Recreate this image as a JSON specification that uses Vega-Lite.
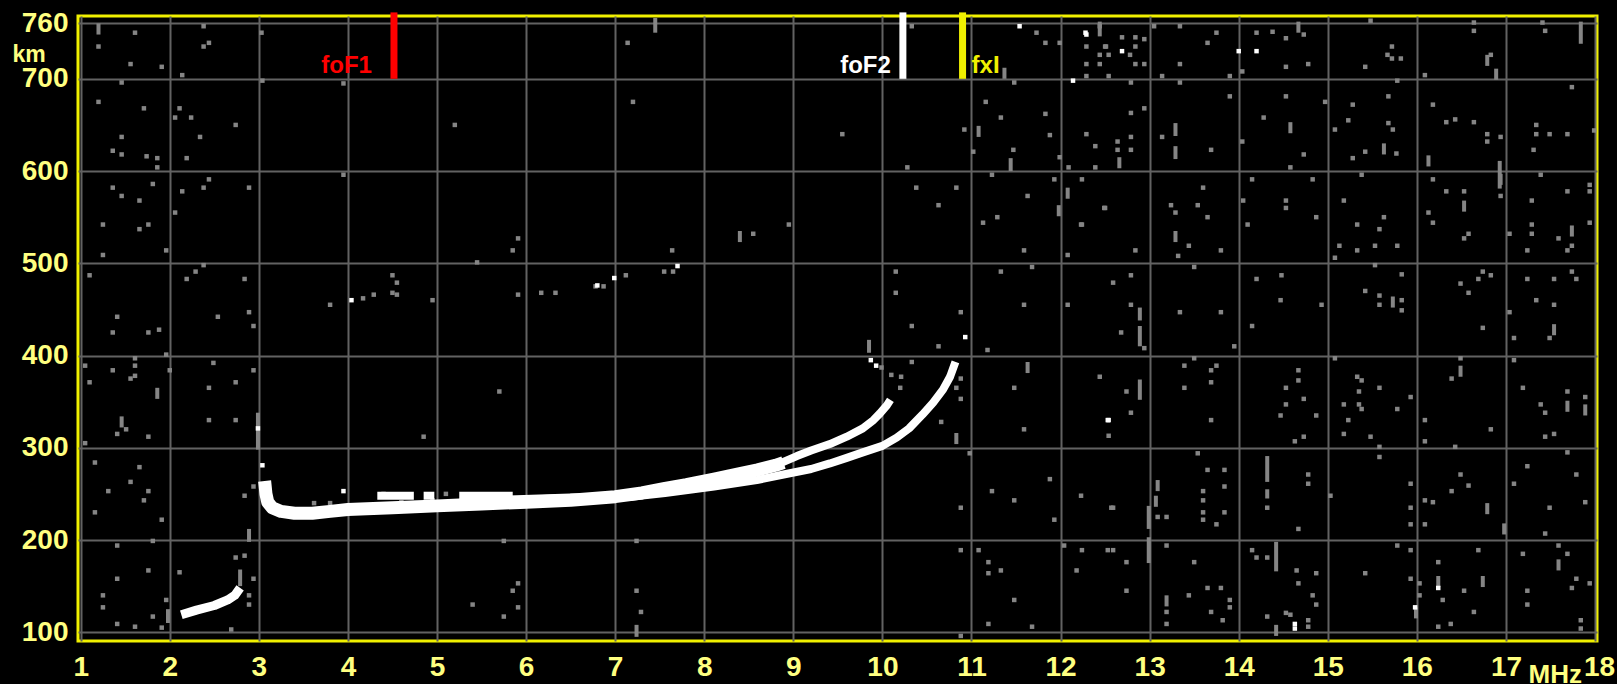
{
  "$schema": "https://vega.github.io/schema/vega-lite/v6.json",
  "width": 1519,
  "height": 625,
  "autosize": {"type": "none"},
  "padding": {"left": 78, "top": 16, "right": 20, "bottom": 43},
  "background": "#000000",
  "config": {
    "view": {"stroke": "#f0f000", "strokeWidth": 3, "fill": "#000000"},
    "axis": {
      "grid": true, "gridColor": "#626262", "gridWidth": 2, "domain": false, "ticks": false, "tickSize": 0,
      "labelColor": "#ffff80", "labelFont": "Liberation Sans", "labelFontWeight": "bold", "labelFontSize": 28,
      "labelOverlap": false, "labelFlush": false, "labelBound": false, "format": "d",
      "titleColor": "#ffff80", "titleFont": "Liberation Sans", "titleFontWeight": "bold"
    }
  },
  "datasets": {
    "noise": [
      {"f":1.61,"h":750},{"f":1.20,"h":735},{"f":2.38,"h":757},{"f":2.44,"h":739},{"f":2.38,"h":735},{"f":1.56,"h":716},{"f":1.91,"h":713},{"f":2.14,"h":704},{"f":1.46,"h":696},{"f":3.03,"h":750},{"f":3.04,"h":698},{"f":3.95,"h":695},
      {"f":1.20,"h":675},{"f":1.71,"h":668},{"f":2.11,"h":668},{"f":2.06,"h":658},{"f":2.24,"h":658},{"f":2.74,"h":650},{"f":1.46,"h":637},{"f":2.34,"h":637},{"f":1.36,"h":622},{"f":1.46,"h":618},{"f":1.74,"h":616},{"f":1.86,"h":614},{"f":2.19,"h":614},{"f":1.86,"h":604},{"f":5.20,"h":650},
      {"f":3.95,"h":596},{"f":1.36,"h":582},{"f":1.81,"h":586},{"f":2.44,"h":591},{"f":2.14,"h":578},{"f":2.38,"h":582},{"f":2.89,"h":582},{"f":1.46,"h":573},{"f":1.66,"h":568},{"f":1.25,"h":542},{"f":1.76,"h":542},{"f":1.66,"h":537},{"f":2.06,"h":555},{"f":1.96,"h":514},{"f":1.25,"h":509},{"f":5.91,"h":527},{"f":5.85,"h":514},{"f":5.45,"h":501},{"f":2.38,"h":498},{"f":2.29,"h":491},{"f":2.19,"h":483},{"f":2.84,"h":483},{"f":1.10,"h":487},
      {"f":4.50,"h":487},{"f":4.55,"h":479},{"f":4.50,"h":468},{"f":4.55,"h":466},{"f":4.17,"h":462},{"f":4.29,"h":466},{"f":3.80,"h":455},{"f":4.95,"h":460},{"f":5.91,"h":466},{"f":6.17,"h":468},{"f":6.33,"h":468},{"f":6.78,"h":475},{"f":1.41,"h":442},{"f":2.89,"h":447},{"f":2.54,"h":442},{"f":2.94,"h":432},{"f":1.36,"h":425},{"f":1.76,"h":425},{"f":1.88,"h":428},{"f":1.96,"h":401},
      {"f":1.05,"h":389},{"f":1.36,"h":384},{"f":1.61,"h":397},{"f":1.61,"h":389},{"f":1.61,"h":378},{"f":1.56,"h":375},{"f":1.10,"h":371},{"f":2.00,"h":384},{"f":2.49,"h":392},{"f":2.94,"h":384},{"f":2.44,"h":365},{"f":2.74,"h":371},{"f":1.51,"h":320},{"f":1.41,"h":315},{"f":1.76,"h":312},{"f":2.44,"h":330},{"f":2.74,"h":330},{"f":5.70,"h":361},{"f":4.85,"h":312},{"f":1.05,"h":305},
      {"f":1.16,"h":284},{"f":1.66,"h":279},{"f":1.56,"h":263},{"f":1.31,"h":253},{"f":1.76,"h":253},{"f":1.71,"h":243},{"f":1.16,"h":230},{"f":1.91,"h":222},{"f":2.84,"h":248},{"f":2.94,"h":258},
      {"f":1.41,"h":194},{"f":1.81,"h":199},{"f":1.76,"h":167},{"f":1.41,"h":158},{"f":2.11,"h":165},{"f":2.74,"h":181},{"f":2.84,"h":183},{"f":2.94,"h":158},{"f":1.25,"h":140},{"f":1.25,"h":127},{"f":1.96,"h":135},{"f":1.81,"h":117},{"f":1.41,"h":109},{"f":1.61,"h":106},{"f":1.91,"h":105},{"f":2.69,"h":103},{"f":2.89,"h":140},{"f":2.89,"h":130},{"f":5.91,"h":153},{"f":5.85,"h":145},{"f":5.40,"h":130},{"f":5.75,"h":117},{"f":5.91,"h":127},{"f":5.75,"h":199},
      {"f":7.14,"h":739},{"f":7.20,"h":675},{"f":9.55,"h":640},{"f":10.33,"h":757},{"f":11.73,"h":750},{"f":11.83,"h":739},{"f":11.99,"h":739},{"f":12.44,"h":757},{"f":12.29,"h":735},{"f":12.51,"h":735},{"f":12.44,"h":726},{"f":12.29,"h":716},{"f":12.44,"h":716},{"f":12.29,"h":703},{"f":12.54,"h":703},{"f":11.48,"h":696},{"f":11.16,"h":675},{"f":11.33,"h":658},{"f":11.83,"h":662},{"f":10.92,"h":645},{"f":11.02,"h":621},{"f":11.47,"h":623},{"f":11.88,"h":639},{"f":12.29,"h":640},{"f":12.39,"h":627},{"f":11.99,"h":615},{"f":12.09,"h":604},{"f":12.39,"h":604},{"f":10.28,"h":604},{"f":11.23,"h":596},{"f":11.93,"h":591},{"f":12.24,"h":591},{"f":10.38,"h":582},{"f":10.83,"h":582},{"f":11.63,"h":573},{"f":12.49,"h":560},{"f":10.63,"h":563},{"f":11.13,"h":544},{"f":11.29,"h":550},{"f":12.23,"h":542},{"f":8.95,"h":542},{"f":8.55,"h":532},{"f":11.59,"h":514},{"f":12.08,"h":509},{"f":7.64,"h":514},{"f":7.55,"h":491},{"f":7.65,"h":491},{"f":7.12,"h":487},{"f":6.87,"h":475},{"f":10.15,"h":491},{"f":10.15,"h":468},{"f":11.33,"h":491},{"f":11.68,"h":496},{"f":11.59,"h":455},{"f":12.08,"h":455},{"f":12.59,"h":479},{"f":10.88,"h":447},{"f":10.33,"h":432},{"f":10.63,"h":410},{"f":11.18,"h":406},{"f":10.33,"h":393},{"f":10.21,"h":377},{"f":10.10,"h":379},{"f":10.20,"h":365},{"f":10.83,"h":365},{"f":10.88,"h":375},{"f":10.88,"h":353},{"f":10.66,"h":328},{"f":11.48,"h":365},{"f":12.44,"h":377},{"f":12.54,"h":313},{"f":11.59,"h":320},{"f":10.98,"h":294},{"f":11.88,"h":266},{"f":11.23,"h":253},{"f":11.48,"h":243},{"f":12.23,"h":248},{"f":10.88,"h":235},{"f":11.93,"h":222},{"f":12.57,"h":235},{"f":7.24,"h":199},{"f":10.88,"h":189},{"f":11.08,"h":189},{"f":11.19,"h":176},{"f":11.19,"h":164},{"f":11.33,"h":167},{"f":12.04,"h":194},{"f":12.24,"h":189},{"f":12.53,"h":189},{"f":12.18,"h":167},{"f":11.48,"h":135},{"f":7.24,"h":145},{"f":7.29,"h":122},{"f":11.19,"h":109},{"f":11.68,"h":106},{"f":9.99,"h":387},{"f":10.88,"h":96},
      {"f":12.50,"h":735},{"f":12.69,"h":745},{"f":12.84,"h":745},{"f":12.84,"h":735},{"f":12.94,"h":743},{"f":12.78,"h":726},{"f":12.54,"h":726},{"f":12.84,"h":716},{"f":12.94,"h":716},{"f":13.05,"h":757},{"f":13.34,"h":757},{"f":13.75,"h":750},{"f":13.65,"h":739},{"f":13.34,"h":716},{"f":13.90,"h":703},{"f":13.14,"h":703},{"f":14.20,"h":750},{"f":14.38,"h":751},{"f":14.53,"h":744},{"f":14.73,"h":748},{"f":14.78,"h":716},{"f":14.53,"h":713},{"f":14.04,"h":708},{"f":15.48,"h":763},{"f":15.72,"h":735},{"f":15.67,"h":726},{"f":15.82,"h":722},{"f":15.72,"h":722},{"f":15.42,"h":713},{"f":16.64,"h":752},{"f":16.64,"h":761},{"f":16.83,"h":726},{"f":16.09,"h":704},{"f":17.41,"h":761},{"f":17.44,"h":752},
      {"f":12.79,"h":696},{"f":12.94,"h":668},{"f":12.79,"h":663},{"f":12.64,"h":632},{"f":12.79,"h":637},{"f":12.64,"h":623},{"f":12.79,"h":623},{"f":13.34,"h":696},{"f":13.90,"h":681},{"f":13.14,"h":637},{"f":13.69,"h":623},{"f":14.53,"h":681},{"f":14.28,"h":658},{"f":14.04,"h":632},{"f":14.73,"h":618},{"f":14.58,"h":604},{"f":14.97,"h":675},{"f":15.28,"h":672},{"f":15.68,"h":681},{"f":15.23,"h":655},{"f":15.08,"h":645},{"f":15.68,"h":652},{"f":15.73,"h":645},{"f":15.42,"h":621},{"f":15.77,"h":619},{"f":15.28,"h":614},{"f":15.78,"h":698},{"f":16.18,"h":672},{"f":16.33,"h":653},{"f":16.43,"h":656},{"f":16.64,"h":653},{"f":16.79,"h":640},{"f":16.79,"h":632},{"f":16.94,"h":637},{"f":17.74,"h":691},{"f":17.34,"h":650},{"f":17.34,"h":640},{"f":17.49,"h":640},{"f":17.69,"h":640},{"f":17.31,"h":623},{"f":17.99,"h":644},
      {"f":12.50,"h":560},{"f":12.24,"h":542},{"f":12.84,"h":514},{"f":13.24,"h":563},{"f":13.29,"h":555},{"f":13.54,"h":563},{"f":13.65,"h":550},{"f":13.44,"h":519},{"f":13.80,"h":514},{"f":13.32,"h":508},{"f":13.60,"h":582},{"f":14.15,"h":591},{"f":14.83,"h":591},{"f":14.05,"h":568},{"f":14.53,"h":568},{"f":14.53,"h":560},{"f":14.87,"h":550},{"f":14.10,"h":542},{"f":15.18,"h":568},{"f":15.38,"h":596},{"f":15.63,"h":550},{"f":15.33,"h":542},{"f":15.58,"h":537},{"f":15.13,"h":519},{"f":15.33,"h":514},{"f":15.53,"h":519},{"f":15.78,"h":519},{"f":15.08,"h":506},{"f":16.18,"h":591},{"f":16.33,"h":578},{"f":16.53,"h":578},{"f":16.13,"h":555},{"f":16.18,"h":544},{"f":16.58,"h":532},{"f":16.53,"h":527},{"f":16.94,"h":573},{"f":17.29,"h":568},{"f":17.39,"h":596},{"f":17.69,"h":578},{"f":17.94,"h":585},{"f":17.94,"h":578},{"f":17.29,"h":542},{"f":17.29,"h":532},{"f":17.04,"h":532},{"f":17.94,"h":544},{"f":17.59,"h":527},{"f":17.74,"h":519},{"f":17.69,"h":514},{"f":17.24,"h":514},
      {"f":12.79,"h":487},{"f":12.79,"h":455},{"f":12.68,"h":425},{"f":12.94,"h":408},{"f":13.50,"h":496},{"f":13.34,"h":447},{"f":13.80,"h":447},{"f":13.95,"h":410},{"f":14.20,"h":483},{"f":14.48,"h":487},{"f":14.47,"h":460},{"f":14.93,"h":455},{"f":14.15,"h":432},{"f":15.53,"h":498},{"f":15.83,"h":488},{"f":15.42,"h":470},{"f":15.58,"h":465},{"f":15.58,"h":455},{"f":15.83,"h":460},{"f":15.83,"h":449},{"f":16.49,"h":478},{"f":16.58,"h":468},{"f":16.69,"h":483},{"f":16.74,"h":491},{"f":16.83,"h":487},{"f":16.74,"h":430},{"f":17.24,"h":483},{"f":17.34,"h":460},{"f":17.54,"h":483},{"f":17.54,"h":455},{"f":17.74,"h":491},{"f":17.79,"h":483},{"f":17.04,"h":447},{"f":17.49,"h":419},{"f":17.09,"h":419},
      {"f":12.74,"h":361},{"f":12.79,"h":338},{"f":13.50,"h":397},{"f":13.39,"h":389},{"f":13.69,"h":384},{"f":13.75,"h":389},{"f":13.39,"h":365},{"f":13.69,"h":371},{"f":13.69,"h":330},{"f":14.67,"h":384},{"f":14.67,"h":373},{"f":14.53,"h":365},{"f":14.73,"h":353},{"f":14.53,"h":347},{"f":14.47,"h":335},{"f":14.87,"h":335},{"f":14.73,"h":312},{"f":14.63,"h":307},{"f":15.08,"h":397},{"f":15.33,"h":377},{"f":15.38,"h":373},{"f":15.35,"h":361},{"f":15.58,"h":365},{"f":15.18,"h":347},{"f":15.35,"h":347},{"f":15.38,"h":342},{"f":15.78,"h":342},{"f":15.93,"h":355},{"f":15.23,"h":330},{"f":15.18,"h":315},{"f":15.48,"h":312},{"f":15.58,"h":301},{"f":16.49,"h":397},{"f":16.39,"h":375},{"f":16.09,"h":330},{"f":16.09,"h":307},{"f":16.83,"h":320},{"f":16.43,"h":301},{"f":17.09,"h":395},{"f":17.19,"h":365},{"f":17.39,"h":347},{"f":17.44,"h":338},{"f":17.69,"h":361},{"f":17.89,"h":355},{"f":17.44,"h":312},{"f":17.54,"h":315},
      {"f":12.59,"h":235},{"f":13.54,"h":294},{"f":13.65,"h":276},{"f":13.84,"h":276},{"f":13.84,"h":258},{"f":13.09,"h":225},{"f":13.19,"h":225},{"f":13.60,"h":253},{"f":13.60,"h":243},{"f":13.60,"h":230},{"f":13.60,"h":222},{"f":13.75,"h":217},{"f":13.84,"h":230},{"f":14.32,"h":235},{"f":14.78,"h":271},{"f":14.78,"h":261},{"f":14.67,"h":212},{"f":15.03,"h":248},{"f":15.58,"h":290},{"f":15.93,"h":261},{"f":15.93,"h":235},{"f":15.93,"h":217},{"f":16.09,"h":243},{"f":16.18,"h":241},{"f":16.09,"h":217},{"f":16.49,"h":271},{"f":16.39,"h":253},{"f":16.58,"h":259},{"f":17.69,"h":295},{"f":17.24,"h":280},{"f":17.79,"h":271},{"f":17.09,"h":261},{"f":17.49,"h":235},{"f":17.89,"h":241},{"f":17.44,"h":207},
      {"f":12.59,"h":189},{"f":12.74,"h":176},{"f":12.74,"h":145},{"f":13.19,"h":194},{"f":13.50,"h":176},{"f":13.65,"h":148},{"f":13.80,"h":148},{"f":13.44,"h":140},{"f":13.19,"h":122},{"f":13.69,"h":122},{"f":13.90,"h":135},{"f":13.90,"h":127},{"f":13.82,"h":113},{"f":13.19,"h":109},{"f":14.15,"h":189},{"f":14.20,"h":181},{"f":14.32,"h":181},{"f":14.65,"h":167},{"f":14.87,"h":164},{"f":14.67,"h":153},{"f":14.83,"h":140},{"f":14.87,"h":130},{"f":14.53,"h":121},{"f":14.58,"h":119},{"f":14.78,"h":113},{"f":14.78,"h":106},{"f":14.32,"h":117},{"f":15.42,"h":164},{"f":15.78,"h":194},{"f":15.93,"h":189},{"f":15.93,"h":158},{"f":16.03,"h":153},{"f":16.03,"h":140},{"f":16.24,"h":176},{"f":16.29,"h":135},{"f":16.53,"h":145},{"f":16.64,"h":122},{"f":16.69,"h":189},{"f":16.38,"h":109},{"f":16.24,"h":106},{"f":17.59,"h":194},{"f":17.24,"h":145},{"f":17.24,"h":130},{"f":17.79,"h":158},{"f":17.74,"h":148},{"f":17.94,"h":153},{"f":17.84,"h":113},{"f":17.84,"h":104},{"f":17.69,"h":185},{"f":17.19,"h":185},
      {"f":4.60,"h":241},{"f":4.95,"h":243},{"f":5.30,"h":242},{"f":5.55,"h":244},{"f":3.62,"h":240},{"f":3.80,"h":240},{"f":4.40,"h":250},{"f":5.10,"h":250}
    ],
    "spots": [
      {"f":2.99,"h":321},{"f":3.04,"h":281},{"f":3.95,"h":253},{"f":4.04,"h":460},{"f":7.70,"h":497},{"f":6.99,"h":484},{"f":10.93,"h":420},{"f":12.53,"h":330},{"f":9.87,"h":395},{"f":9.93,"h":389},{"f":11.54,"h":757},{"f":12.29,"h":748},{"f":12.14,"h":698},{"f":12.69,"h":730},{"f":14.00,"h":730},{"f":14.20,"h":730},{"f":15.98,"h":127},{"f":16.24,"h":148},{"f":14.63,"h":109},{"f":14.63,"h":104},{"f":12.28,"h":750},{"f":12.54,"h":330},{"f":6.80,"h":476}
    ],
    "streaks": [
      {"f":1.20,"lo":748,"hi":760},{"f":1.86,"lo":353,"hi":365},{"f":1.46,"lo":322,"hi":334},{"f":2.89,"lo":198,"hi":212},{"f":2.99,"lo":298,"hi":338},{"f":1.98,"lo":110,"hi":125},{"f":2.79,"lo":150,"hi":168},
      {"f":7.45,"lo":750,"hi":766},{"f":11.37,"lo":700,"hi":712},{"f":11.08,"lo":637,"hi":649},{"f":11.44,"lo":600,"hi":614},{"f":12.08,"lo":570,"hi":582},{"f":11.98,"lo":551,"hi":563},{"f":8.40,"lo":523,"hi":535},{"f":9.85,"lo":403,"hi":417},{"f":10.83,"lo":304,"hi":316},{"f":11.63,"lo":381,"hi":393},{"f":7.24,"lo":95,"hi":108},
      {"f":12.44,"lo":746,"hi":762},{"f":14.67,"lo":750,"hi":762},{"f":16.79,"lo":714,"hi":726},{"f":16.89,"lo":699,"hi":711},{"f":17.84,"lo":738,"hi":762},{"f":12.66,"lo":603,"hi":615},{"f":13.29,"lo":638,"hi":652},{"f":13.29,"lo":613,"hi":627},{"f":14.58,"lo":641,"hi":653},{"f":15.63,"lo":618,"hi":630},{"f":16.13,"lo":605,"hi":617},{"f":16.93,"lo":581,"hi":611},{"f":13.29,"lo":523,"hi":535},{"f":16.53,"lo":556,"hi":568},{"f":16.94,"lo":585,"hi":597},{"f":17.74,"lo":529,"hi":541},{"f":12.89,"lo":438,"hi":452},{"f":12.89,"lo":410,"hi":432},{"f":15.73,"lo":452,"hi":464},{"f":17.54,"lo":422,"hi":434},{"f":12.89,"lo":352,"hi":374},{"f":16.49,"lo":377,"hi":389},{"f":17.69,"lo":339,"hi":351},{"f":17.89,"lo":335,"hi":347},{"f":13.09,"lo":253,"hi":265},{"f":13.07,"lo":236,"hi":248},{"f":12.99,"lo":212,"hi":237},{"f":12.99,"lo":175,"hi":203},{"f":14.32,"lo":263,"hi":291},{"f":14.32,"lo":245,"hi":255},{"f":16.79,"lo":228,"hi":240},{"f":16.98,"lo":206,"hi":218},{"f":13.19,"lo":128,"hi":140},{"f":14.42,"lo":166,"hi":198},{"f":14.42,"lo":96,"hi":108},{"f":15.99,"lo":115,"hi":127},{"f":16.24,"lo":149,"hi":161},{"f":16.74,"lo":149,"hi":161},{"f":17.59,"lo":167,"hi":179}
    ],
    "traces": [
      {"trace":"O","seg":"O","f":3.065,"h":264},{"trace":"O","seg":"O","f":3.08,"h":250},{"trace":"O","seg":"O","f":3.10,"h":241},{"trace":"O","seg":"O","f":3.15,"h":235},{"trace":"O","seg":"O","f":3.25,"h":231},{"trace":"O","seg":"O","f":3.4,"h":229},{"trace":"O","seg":"O","f":3.6,"h":229},{"trace":"O","seg":"O","f":3.8,"h":231},{"trace":"O","seg":"O","f":4.0,"h":233},{"trace":"O","seg":"O","f":4.5,"h":235},{"trace":"O","seg":"O","f":5.0,"h":237},{"trace":"O","seg":"O","f":5.5,"h":239},{"trace":"O","seg":"O","f":6.0,"h":241},{"trace":"O","seg":"O","f":6.5,"h":243},{"trace":"O","seg":"O","f":7.0,"h":247},{"trace":"O","seg":"O","f":7.3,"h":251},{"trace":"O","seg":"O","f":7.56,"h":256},{"trace":"O","seg":"O","f":7.8,"h":260},{"trace":"O","seg":"O","f":8.11,"h":266},{"trace":"O","seg":"O","f":8.4,"h":272},{"trace":"O","seg":"O","f":8.6,"h":276},{"trace":"O","seg":"O","f":8.8,"h":281},{"trace":"O","seg":"O","f":8.89,"h":284},
      {"trace":"O2","seg":"O2","f":8.85,"h":283},{"trace":"O2","seg":"O2","f":9.04,"h":291},{"trace":"O2","seg":"O2","f":9.2,"h":297},{"trace":"O2","seg":"O2","f":9.41,"h":304},{"trace":"O2","seg":"O2","f":9.6,"h":312},{"trace":"O2","seg":"O2","f":9.78,"h":321},{"trace":"O2","seg":"O2","f":9.9,"h":330},{"trace":"O2","seg":"O2","f":9.97,"h":337},{"trace":"O2","seg":"O2","f":10.05,"h":346},{"trace":"O2","seg":"O2","f":10.09,"h":352},
      {"trace":"X","seg":"X","f":5.8,"h":244},{"trace":"X","seg":"X","f":6.5,"h":246},{"trace":"X","seg":"X","f":7.2,"h":247},{"trace":"X","seg":"X","f":7.56,"h":251},{"trace":"X","seg":"X","f":8.11,"h":258},{"trace":"X","seg":"X","f":8.59,"h":265},{"trace":"X","seg":"X","f":8.89,"h":271},{"trace":"X","seg":"X","f":9.2,"h":277},{"trace":"X","seg":"X","f":9.41,"h":283},{"trace":"X","seg":"X","f":9.6,"h":289},{"trace":"X","seg":"X","f":9.78,"h":295},{"trace":"X","seg":"X","f":10.0,"h":302},{"trace":"X","seg":"X","f":10.16,"h":311},{"trace":"X","seg":"X","f":10.3,"h":321},{"trace":"X","seg":"X","f":10.45,"h":336},{"trace":"X","seg":"X","f":10.57,"h":349},{"trace":"X","seg":"X","f":10.68,"h":363},{"trace":"X","seg":"X","f":10.76,"h":377},{"trace":"X","seg":"X","f":10.82,"h":393},
      {"trace":"Ou","seg":"u1","f":4.33,"h":248},{"trace":"Ou","seg":"u1","f":4.74,"h":248},{"trace":"Ou","seg":"u2","f":4.85,"h":248},{"trace":"Ou","seg":"u2","f":4.97,"h":248},{"trace":"Ou","seg":"u3","f":5.25,"h":248},{"trace":"Ou","seg":"u3","f":5.85,"h":248},
      {"trace":"E","seg":"E","f":2.13,"h":119},{"trace":"E","seg":"E","f":2.3,"h":124},{"trace":"E","seg":"E","f":2.5,"h":129},{"trace":"E","seg":"E","f":2.65,"h":135},{"trace":"E","seg":"E","f":2.73,"h":140},{"trace":"E","seg":"E","f":2.79,"h":148}
    ],
    "markers": [
      {"name":"foF1","f":4.517},{"name":"foF2","f":10.23},{"name":"fxI","f":10.90}
    ]
  },
  "layer": [
    {
      "data": {"name": "noise"},
      "mark": {"type": "point", "shape": "square", "filled": true, "size": 20, "color": "#858585", "opacity": 1, "strokeWidth": 0},
      "encoding": {
        "x": {"field": "f", "type": "quantitative", "scale": {"domain": [0.97, 18.022], "nice": false, "zero": false},
              "axis": {"values": [1,2,3,4,5,6,7,8,9,10,11,12,13,14,15,16,17,18], "labelPadding": 12, "labelBaseline": "top",
                       "labelOffset": {"condition": {"test": "datum.value == 18", "value": 4}, "value": 0},
                       "title": "MHz", "titleFontSize": 26, "titleAlign": "left", "titleBaseline": "alphabetic", "titleAngle": 0, "titleX": 1450, "titleY": 41}},
        "y": {"field": "h", "type": "quantitative", "scale": {"domain": [90.5, 768.1], "nice": false, "zero": false},
              "axis": {"values": [100,200,300,400,500,600,700,760], "labelPadding": 10,
                       "title": "km", "titleFontSize": 23, "titleAngle": 0, "titleAlign": "left", "titleBaseline": "alphabetic", "titleX": -66, "titleY": 45}}
      }
    },
    {
      "data": {"name": "streaks"},
      "mark": {"type": "rule", "color": "#858585", "strokeWidth": 4},
      "encoding": {
        "x": {"field": "f", "type": "quantitative"},
        "y": {"field": "lo", "type": "quantitative"},
        "y2": {"field": "hi"}
      }
    },
    {
      "data": {"name": "traces"},
      "transform": [{"filter": "datum.trace === 'O'"}],
      "mark": {"type": "line", "color": "#ffffff", "strokeWidth": 13, "strokeCap": "butt", "strokeJoin": "round"},
      "encoding": {"x": {"field": "f", "type": "quantitative"}, "y": {"field": "h", "type": "quantitative"}, "detail": {"field": "seg"}, "order": {"field": "f", "type": "quantitative"}}
    },
    {
      "data": {"name": "traces"},
      "transform": [{"filter": "datum.trace === 'O2' || datum.trace === 'X' || datum.trace === 'Ou'"}],
      "mark": {"type": "line", "color": "#ffffff", "strokeWidth": 8, "strokeCap": "butt", "strokeJoin": "round"},
      "encoding": {"x": {"field": "f", "type": "quantitative"}, "y": {"field": "h", "type": "quantitative"}, "detail": {"field": "seg"}, "order": {"field": "f", "type": "quantitative"}}
    },
    {
      "data": {"name": "traces"},
      "transform": [{"filter": "datum.trace === 'E'"}],
      "mark": {"type": "line", "color": "#ffffff", "strokeWidth": 9, "strokeCap": "butt", "strokeJoin": "round"},
      "encoding": {"x": {"field": "f", "type": "quantitative"}, "y": {"field": "h", "type": "quantitative"}, "detail": {"field": "seg"}, "order": {"field": "f", "type": "quantitative"}}
    },
    {
      "data": {"name": "spots"},
      "mark": {"type": "point", "shape": "square", "filled": true, "size": 20, "color": "#ffffff", "opacity": 1, "strokeWidth": 0},
      "encoding": {"x": {"field": "f", "type": "quantitative"}, "y": {"field": "h", "type": "quantitative"}}
    },
    {
      "data": {"name": "markers"},
      "mark": {"type": "rule", "strokeWidth": 7, "clip": false},
      "encoding": {
        "x": {"field": "f", "type": "quantitative"},
        "y": {"datum": 700},
        "y2": {"datum": 772},
        "color": {"field": "name", "type": "nominal", "scale": {"domain": ["foF1","foF2","fxI"], "range": ["#ff0000","#ffffff","#f0f000"]}, "legend": null}
      }
    },
    {
      "data": {"name": "markers"},
      "transform": [{"filter": "datum.name === 'foF1'"}],
      "mark": {"type": "text", "align": "right", "baseline": "alphabetic", "dx": -22, "font": "Liberation Sans", "fontWeight": "bold", "fontSize": 24},
      "encoding": {"x": {"field": "f", "type": "quantitative"}, "y": {"datum": 706}, "text": {"field": "name"},
        "color": {"field": "name", "type": "nominal", "legend": null}}
    },
    {
      "data": {"name": "markers"},
      "transform": [{"filter": "datum.name === 'foF2'"}],
      "mark": {"type": "text", "align": "right", "baseline": "alphabetic", "dx": -12, "font": "Liberation Sans", "fontWeight": "bold", "fontSize": 24},
      "encoding": {"x": {"field": "f", "type": "quantitative"}, "y": {"datum": 706}, "text": {"field": "name"},
        "color": {"field": "name", "type": "nominal", "legend": null}}
    },
    {
      "data": {"name": "markers"},
      "transform": [{"filter": "datum.name === 'fxI'"}],
      "mark": {"type": "text", "align": "left", "baseline": "alphabetic", "dx": 9, "font": "Liberation Sans", "fontWeight": "bold", "fontSize": 24},
      "encoding": {"x": {"field": "f", "type": "quantitative"}, "y": {"datum": 706}, "text": {"field": "name"},
        "color": {"field": "name", "type": "nominal", "legend": null}}
    }
  ]
}
